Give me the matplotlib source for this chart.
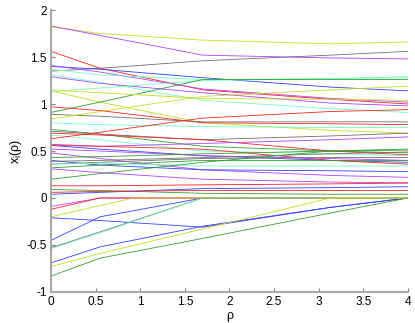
import matplotlib
matplotlib.use('Agg')
import matplotlib.pyplot as plt

plt.rcParams['font.family'] = ['Liberation Sans', 'DejaVu Sans']

# colours used by the paths
R = '#ff2020'
B = '#3040ff'
G = '#30a030'
P = '#b040ff'
Y = '#c8dc20'
T = '#70ffc0'
K = '#707070'

# knots on the rho axis shared by most paths
rho = [0, 0.55, 1.7, 3.13, 4]

# (colour, values at the rho knots)
paths = [
    (Y, [1.82, 1.75, 1.68, 1.64, 1.66]),
    (P, [1.83, 1.73, 1.52, 1.49, 1.48]),
    (K, [1.35, 1.38, 1.46, 1.52, 1.56]),
    (R, [1.56, 1.38, 1.15, 1.05, 1.00]),
    (B, [1.40, 1.37, 1.28, 1.18, 1.14]),
    (P, [1.41, 1.34, 1.16, 1.06, 1.02]),
    (T, [1.37, 1.31, 1.26, 1.27, 1.28]),
    (T, [1.31, 1.23, 1.04, 0.95, 0.91]),
    (P, [1.29, 1.22, 1.12, 1.01, 0.98]),
    (Y, [1.14, 1.02, 0.80, 0.72, 0.69]),
    (T, [1.13, 1.17, 1.25, 1.27, 1.29]),
    (G, [0.91, 1.02, 1.26, 1.26, 1.26]),
    (Y, [1.15, 1.12, 1.06, 1.05, 1.04]),
    (R, [0.97, 0.93, 0.80, 0.79, 0.78]),
    (K, [0.89, 0.87, 0.81, 0.81, 0.81]),
    (Y, [0.84, 0.92, 1.08, 1.15, 1.19]),
    (T, [0.80, 0.78, 0.76, 0.75, 0.75]),
    (G, [0.73, 0.68, 0.55, 0.50, 0.48]),
    (K, [0.71, 0.68, 0.62, 0.66, 0.69]),
    (R, [0.69, 0.67, 0.62, 0.50, 0.46]),
    (T, [0.67, 0.62, 0.50, 0.47, 0.45]),
    (R, [0.63, 0.70, 0.85, 0.92, 0.94]),
    (B, [0.56, 0.52, 0.45, 0.40, 0.38]),
    (P, [0.56, 0.55, 0.58, 0.62, 0.65]),
    (R, [0.57, 0.55, 0.52, 0.40, 0.36]),
    (P, [0.48, 0.42, 0.30, 0.24, 0.22]),
    (P, [0.52, 0.50, 0.45, 0.42, 0.40]),
    (G, [0.43, 0.44, 0.47, 0.50, 0.51]),
    (B, [0.40, 0.35, 0.30, 0.29, 0.28]),
    (K, [0.39, 0.40, 0.43, 0.47, 0.49]),
    (K, [0.36, 0.38, 0.42, 0.43, 0.43]),
    (G, [0.32, 0.35, 0.40, 0.40, 0.40]),
    (T, [0.36, 0.37, 0.34, 0.34, 0.34]),
    (P, [0.31, 0.27, 0.20, 0.17, 0.16]),
    (G, [0.20, 0.26, 0.38, 0.50, 0.52]),
    (R, [0.13, 0.13, 0.14, 0.15, 0.16]),
    (G, [0.09, 0.08, 0.05, 0.04, 0.04]),
    (B, [0.04, 0.06, 0.10, 0.11, 0.12]),
    (R, [0.06, 0.07, 0.08, 0.08, 0.08]),
    (P, [-0.09, 0.00, 0.00, 0.00, 0.00]),
    (R, [-0.12, 0.00, 0.00, 0.00, 0.00]),
    (B, [-0.21, -0.24, -0.31, -0.10, 0.00]),
    (B, [-0.45, -0.20, 0.00, 0.00, 0.00]),
    (K, [-0.53, -0.36, 0.00, 0.00, 0.00]),
    (T, [-0.54, -0.37, 0.00, 0.00, 0.00]),
    (B, [-0.69, -0.52, -0.30, -0.10, 0.00]),
    (Y, [-0.73, -0.59, -0.33, 0.00, 0.00]),
    (G, [-0.83, -0.64, -0.43, -0.16, 0.00]),
]

# one path that hits zero between the shared knots
yel_rho = [0, 0.92, 4]
yel_val = [-0.20, 0.00, 0.00]

fig = plt.figure(figsize=(4.15, 3.23), dpi=100)
ax = fig.add_axes([0.123, 0.096, 0.86, 0.873])

for c, v in paths:
    ax.plot(rho, v, color=c, lw=0.6)
ax.plot(yel_rho, yel_val, color=Y, lw=0.6)

ax.set_xlim(0, 4)
ax.set_ylim(-1, 2)
ax.set_xticks([0, 0.5, 1, 1.5, 2, 2.5, 3, 3.5, 4])
ax.set_xticklabels(['0', '0.5', '1', '1.5', '2', '2.5', '3', '3.5', '4'])
ax.set_yticks([-1, -0.5, 0, 0.5, 1, 1.5, 2])
ax.set_yticklabels(['-1', '-0.5', '0', '0.5', '1', '1.5', '2'])

for s in ['top', 'right']:
    ax.spines[s].set_visible(False)
for s in ['left', 'bottom']:
    ax.spines[s].set_color('#a8a8a8')
    ax.spines[s].set_linewidth(1.5)
ax.tick_params(direction='in', length=3, color='#808080', labelsize=8.5, pad=3)

ax.set_xlabel('ρ', fontsize=9, labelpad=1)
ax.set_ylabel('x$_\\mathregular{i}$(ρ)', fontsize=9, labelpad=2)

fig.savefig('out.png', dpi=100)
